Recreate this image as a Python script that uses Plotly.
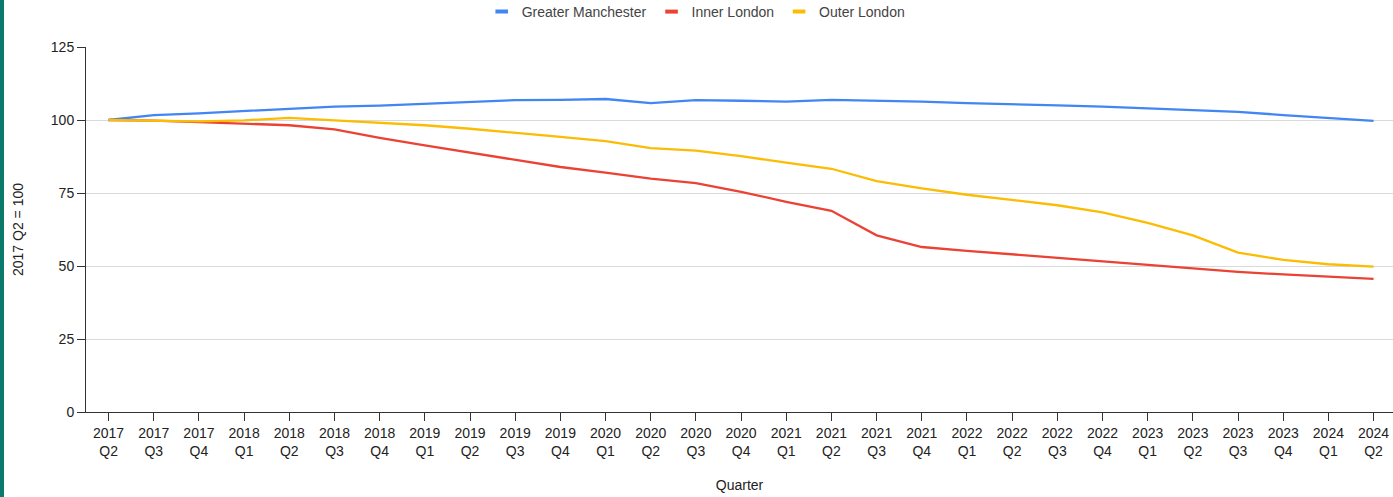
import plotly.graph_objects as go

quarters = [
    "2017<br>Q2", "2017<br>Q3", "2017<br>Q4",
    "2018<br>Q1", "2018<br>Q2", "2018<br>Q3", "2018<br>Q4",
    "2019<br>Q1", "2019<br>Q2", "2019<br>Q3", "2019<br>Q4",
    "2020<br>Q1", "2020<br>Q2", "2020<br>Q3", "2020<br>Q4",
    "2021<br>Q1", "2021<br>Q2", "2021<br>Q3", "2021<br>Q4",
    "2022<br>Q1", "2022<br>Q2", "2022<br>Q3", "2022<br>Q4",
    "2023<br>Q1", "2023<br>Q2", "2023<br>Q3", "2023<br>Q4",
    "2024<br>Q1", "2024<br>Q2",
]

greater_manchester = [
    100.0, 101.7, 102.3, 103.1, 103.8, 104.6, 104.9, 105.5, 106.2, 106.8,
    106.9, 107.2, 105.8, 106.8, 106.6, 106.3, 106.9, 106.7, 106.3, 105.8,
    105.5, 105.0, 104.6, 104.0, 103.5, 102.8, 101.7, 100.7, 99.7,
]
inner_london = [
    100.0, 99.8, 99.3, 98.8, 98.2, 96.8, 93.9, 91.3, 88.8, 86.2,
    83.9, 82.0, 79.9, 78.4, 75.4, 72.0, 68.9, 60.5, 56.5, 55.2,
    54.0, 52.8, 51.7, 50.4, 49.4, 48.0, 47.1, 46.3, 45.6,
]
outer_london = [
    100.0, 99.8, 99.5, 99.9, 100.7, 99.9, 99.1, 98.2, 97.0, 95.5,
    94.2, 92.8, 90.4, 89.5, 87.6, 85.4, 83.3, 79.1, 76.6, 74.4,
    72.5, 70.8, 68.4, 64.8, 60.5, 54.6, 52.1, 50.6, 49.8,
]

y_ticks = [0, 25, 50, 75, 100, 125]

series = [
    ("Greater Manchester", greater_manchester, "#4285F4"),
    ("Inner London", inner_london, "#EA4335"),
    ("Outer London", outer_london, "#FBBC04"),
]

W, H = 1393, 497
ML, MR, MT, MB = 86, 0, 47, 85
plot_w = W - ML - MR
plot_h = H - MT - MB
n = len(quarters)
x_hi = (n - 1) + 0.43

font_family = "Liberation Sans, Arial, sans-serif"

fig = go.Figure()
for name, vals, color in series:
    fig.add_trace(go.Scatter(
        x=quarters, y=vals, name=name, mode="lines",
        line=dict(color=color, width=2.3), showlegend=False,
    ))
# legend entries drawn as short thick bars (Google-style legend keys)
for name, vals, color in series:
    fig.add_trace(go.Scatter(
        x=[None], y=[None], name=name, mode="markers",
        marker=dict(symbol="line-ew", size=9, color=color,
                    line=dict(color=color, width=4)),
        showlegend=True, hoverinfo="skip",
    ))

axis_color = "#333333"
fig.update_layout(
    width=W, height=H,
    margin=dict(l=ML, r=MR, t=MT, b=MB, autoexpand=False),
    paper_bgcolor="white", plot_bgcolor="white",
    font=dict(family=font_family, size=14, color="#222222"),
    showlegend=True,
    legend=dict(
        orientation="h", x=0.4665, xanchor="center", y=1 + 35 / plot_h, yanchor="middle",
        font=dict(size=14, color="#444444"),
        bgcolor="rgba(0,0,0,0)",
    ),
    xaxis=dict(
        type="category", range=[-0.5, x_hi],
        showline=True, linecolor=axis_color, linewidth=1,
        ticks="outside", ticklen=8, tickcolor=axis_color, tickwidth=1,
        showgrid=False, zeroline=False,
        tickfont=dict(size=14, color="#222222"),
        title=dict(text="Quarter", standoff=22, font=dict(size=14, color="#222222")),
    ),
    yaxis=dict(
        range=[0, 125], tickvals=y_ticks,
        showline=True, linecolor=axis_color, linewidth=1,
        ticks="outside", ticklen=8, tickcolor=axis_color, tickwidth=1,
        showgrid=True, gridcolor="#d9d9d9", gridwidth=1, zeroline=False,
        tickfont=dict(size=14, color="#222222"),
        title=dict(text="2017 Q2 = 100", standoff=23, font=dict(size=14, color="#222222")),
    ),
    xaxis2=dict(
        overlaying="x", range=[-0.5, x_hi], tickvals=list(range(n)),
        showticklabels=False, ticks="inside", ticklen=6, tickcolor=axis_color,
        showgrid=False, zeroline=False, showline=False, anchor="y",
        side="bottom",
    ),
    yaxis2=dict(
        overlaying="y", range=[0, 125], tickvals=y_ticks,
        showticklabels=False, ticks="inside", ticklen=7, tickcolor=axis_color,
        showgrid=False, zeroline=False, showline=False, anchor="x",
        side="left",
    ),
    shapes=[
        dict(type="rect", xref="paper", yref="paper",
             x0=-ML / plot_w, x1=(4 - ML) / plot_w,
             y0=-MB / plot_h, y1=1 + MT / plot_h,
             fillcolor="#0B7A6B", line=dict(width=0), layer="above"),
    ],
)

fig.write_html(
    "out.html",
    config={"displayModeBar": False},
    post_script="document.body.style.margin='0';document.body.style.overflow='hidden';",
)
